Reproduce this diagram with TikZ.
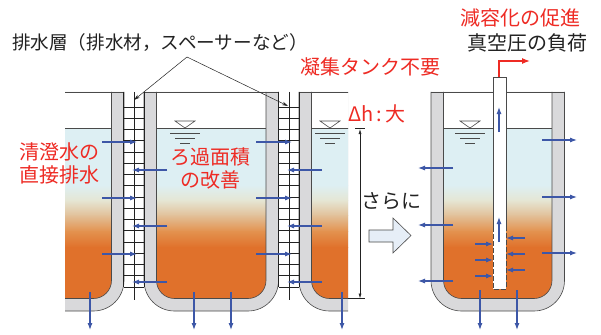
\documentclass[tikz,border=0pt]{standalone}
\usepackage{fontspec}
\setmainfont{Noto Sans CJK JP}
\usetikzlibrary{arrows.meta}

\definecolor{wallgray}{HTML}{D9D9DB}
\definecolor{edgegray}{HTML}{4A4A4A}
\definecolor{clearwater}{HTML}{DDEFF3}
\definecolor{paleband}{HTML}{E5E6D4}
\definecolor{beige}{HTML}{E2C19A}
\definecolor{lightorange}{HTML}{E3924F}
\definecolor{sludge}{HTML}{E0712B}
\definecolor{flow}{HTML}{3D57A7}
\definecolor{note}{HTML}{EE2B24}
\definecolor{ink}{HTML}{222222}
\definecolor{arrowfill}{HTML}{E6EEF7}

\tikzset{
  wall/.style={fill=wallgray},
  outline/.style={draw=edgegray, line width=0.6pt},
  flowarrow/.style={draw=flow, line width=1.1pt, -{Latex[length=7pt,width=5pt]}},
  gridline/.style={draw=ink, line width=0.7pt},
  notelabel/.style={text=note, font=\fontsize{20}{23}\selectfont, inner sep=0pt, align=center},
  blacklabel/.style={text=ink, font=\fontsize{20}{23}\selectfont, inner sep=0pt, align=center},
  leader/.style={draw=ink, line width=0.5pt, -{Stealth[length=6pt,width=3.5pt]}},
  dimline/.style={draw=ink, line width=0.6pt, {Latex[length=5pt,width=3pt]}-{Latex[length=5pt,width=3pt]}},
}

% water column: clear supernatant on top, settled sludge below
\newcommand\sludgebands[2]{%
  \fill[clearwater] (#1,120) rectangle (#2,185.5);
  \shade[top color=clearwater, bottom color=paleband] (#1,185) rectangle (#2,200.5);
  \shade[top color=paleband, bottom color=beige] (#1,200) rectangle (#2,215.5);
  \shade[top color=beige, bottom color=lightorange] (#1,215) rectangle (#2,231.5);
  \shade[top color=lightorange, bottom color=sludge] (#1,231) rectangle (#2,247.5);
  \fill[sludge] (#1,247) rectangle (#2,320);
}

% dewatering bag: #1 inner left edge, #2 inner right edge
\newcommand\dewaterbag[2]{%
  \fill[wall, rounded corners=30.5pt] (#1-12.5,92) -- (#1-12.5,311) -- (#2+12.5,311) -- (#2+12.5,92);
  \draw[outline, rounded corners=30.5pt] (#1-12.5,92) -- (#1-12.5,311) -- (#2+12.5,311) -- (#2+12.5,92);
  \fill[white] (#1,92) rectangle (#2,128.5);
  \begin{scope}
    \clip[rounded corners=18pt] (#1,128) -- (#1,298.5) -- (#2,298.5) -- (#2,128);
    \sludgebands{#1}{#2}
  \end{scope}
  \draw[outline, rounded corners=18pt] (#1,92) -- (#1,298.5) -- (#2,298.5) -- (#2,92);
  \draw[draw=edgegray, line width=0.5pt] (#1,128) -- (#2,128);
  \draw[outline] (#1-12.5,92) -- (#2+12.5,92);
}

% water level mark
\newcommand\levelmark[1]{%
  \draw[outline, fill=white] (#1-10,121) -- (#1+10,121) -- (#1,128) -- cycle;
  \draw[outline] (#1-15,133) -- (#1+15,133);
  \draw[outline] (#1-10,138) -- (#1+10,138);
  \draw[outline] (#1-5,143) -- (#1+5,143);
}

% drainage layer between two bags
\newcommand\drainlayer[3]{%
  \foreach \k in {0,...,16} \draw[gridline] (#1,107+11.25*\k) -- (#3,107+11.25*\k);
  \draw[gridline] (#1,92) -- (#1,287);
  \draw[gridline] (#3,92) -- (#3,287);
  \draw[gridline, line width=0.9pt] (#2,92) -- (#2,300);
}

\begin{document}
\begin{tikzpicture}[x=1pt, y=-1pt]
\useasboundingbox (0,0) rectangle (601,334);
\fill[white] (0,0) rectangle (601,334);

% ---- bags laid side by side ----
\begin{scope}
  \clip (65,0) rectangle (200,334);
  \dewaterbag{20}{111.5}
\end{scope}
\dewaterbag{156.5}{266}
\begin{scope}
  \clip (280,0) rectangle (348,334);
  \dewaterbag{311.5}{420}
\end{scope}

\drainlayer{123.5}{134}{144}
\drainlayer{278.5}{289}{299}

\levelmark{185}
\begin{scope}
  \clip (280,0) rectangle (348,334);
  \levelmark{330}
\end{scope}

% flow through the drainage layers
\foreach \y in {142,198,254} {
  \draw[flowarrow] (102,\y) -- (137,\y);
  \draw[flowarrow] (256,\y) -- (292,\y);
}
\foreach \y in {170,226,282} {
  \draw[flowarrow] (167,\y) -- (132,\y);
  \draw[flowarrow] (322,\y) -- (287,\y);
}
\foreach \x in {90,194,231,342} \draw[flowarrow] (\x,292) -- (\x,330);

% head difference
\draw[dimline] (360,129) -- (360,298.5);
\draw[draw=ink, line width=0.6pt] (355,128.5) -- (365,128.5);
\draw[draw=ink, line width=0.6pt] (348,298.5) -- (365,298.5);

% transition arrow
\draw[draw=edgegray, line width=0.6pt, fill=arrowfill]
  (369,230) -- (393,230) -- (393,218) -- (411,235.5) -- (393,253) -- (393,242) -- (369,242) -- cycle;

% ---- single bag with vacuum pipe ----
\dewaterbag{443.5}{552}
\levelmark{470}

\foreach \y in {168,225,281} \draw[flowarrow] (453,\y) -- (418,\y);
\foreach \y in {140,197,253} \draw[flowarrow] (542,\y) -- (577,\y);
\foreach \x in {480,517} \draw[flowarrow] (\x,290) -- (\x,330);

\fill[white] (493,77) rectangle (506,289);
\draw[outline, line width=0.8pt] (493,227) -- (493,77) -- (506,77) -- (506,227);
\draw[outline, line width=0.8pt, dash pattern=on 5pt off 2pt] (493,227) -- (493,289) -- (506,289) -- (506,227);
\coordinate (pipetop) at (499,77);
\coordinate (suctionend) at (530,61);
\draw[note, line width=1.3pt, -{Latex[length=8pt,width=6pt]}] (pipetop) -- (499,61) -- (suctionend);

\foreach \y in {244,260,276} \draw[flowarrow] (475,\y) -- (493,\y);
\foreach \y in {238,254,270} \draw[flowarrow] (525,\y) -- (506,\y);
\draw[flowarrow] (499,132) -- (499,107);
\draw[flowarrow] (499,242) -- (499,217);

% ---- labels ----
\node[blacklabel, font=\fontsize{18.6}{20}\selectfont] (drainlabel) at (160,43) {排水層（排水材，スペーサーなど）};
\coordinate (leadfrom) at (187,57);
\coordinate (layerA) at (134,100);
\coordinate (layerB) at (288,106);
\draw[leader] (leadfrom) -- (layerA);
\draw[leader] (leadfrom) -- (layerB);

\node[notelabel] (nocoag) at (370,67) {凝集タンク不要};
\node[notelabel] (reduce) at (520,18) {減容化の促進};
\node[blacklabel] (vacuum) at (527,43) {真空圧の負荷};
\node[notelabel] (direct) at (59,163) {清澄水の\\直接排水};
\node[notelabel] (area) at (210,168) {ろ過面積\\の改善};
\node[notelabel] (dh) at (377,114) {Δh\,:\,大};
\node[blacklabel] (further) at (391,201) {さらに};
\end{tikzpicture}
\end{document}
